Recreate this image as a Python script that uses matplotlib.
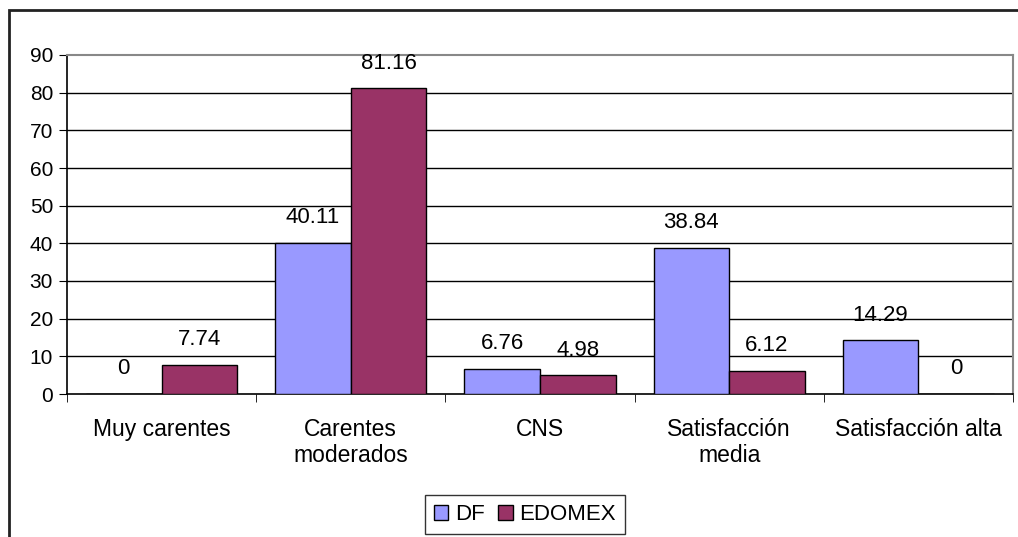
import matplotlib
matplotlib.use("Agg")
import matplotlib.pyplot as plt
import numpy as np
from matplotlib.patches import Rectangle

categories = ["Muy carentes", "Carentes\nmoderados", "CNS", "Satisfacción\nmedia", "Satisfacción alta"]
df_vals = [0, 40.11, 6.76, 38.84, 14.29]
edomex_vals = [7.74, 81.16, 4.98, 6.12, 0]
df_labels = ["0", "40.11", "6.76", "38.84", "14.29"]
edomex_labels = ["7.74", "81.16", "4.98", "6.12", "0"]
yticks = list(range(0, 100, 10))

plt.rcParams['font.family'] = ['Liberation Sans', 'DejaVu Sans']

W, H = 1018, 537
fig = plt.figure(figsize=(W / 100, H / 100), dpi=100)

def fx(px):
    return px / W

def fy(py):
    return 1 - py / H

# outer chart frame
fig.patches.append(Rectangle((fx(9), fy(600)), fx(1100) - fx(9), fy(10) - fy(600),
                             transform=fig.transFigure, fill=False, edgecolor='#222222',
                             linewidth=2, zorder=0))

ax = fig.add_axes([fx(67), fy(394), fx(1013) - fx(67), fy(55) - fy(394)])

x = np.arange(len(categories))
w = 0.4
c_df = '#9999FF'
c_ed = '#993366'
ax.bar(x - w / 2, df_vals, w, color=c_df, edgecolor='black', linewidth=1, zorder=3, label='DF')
ax.bar(x + w / 2, edomex_vals, w, color=c_ed, edgecolor='black', linewidth=1, zorder=3, label='EDOMEX')

fs_lab = 16
fs_tick = 15
fs_cat = 16.5
for i in range(len(categories)):
    ax.annotate(df_labels[i], (x[i] - w / 2, df_vals[i]), xytext=(0, 10.5), textcoords='offset points',
                ha='center', va='bottom', fontsize=fs_lab)
    ax.annotate(edomex_labels[i], (x[i] + w / 2, edomex_vals[i]), xytext=(0, 10.5), textcoords='offset points',
                ha='center', va='bottom', fontsize=fs_lab)

ax.set_xlim(-0.5, len(categories) - 0.5)
ax.set_ylim(0, 90)
ax.set_yticks(yticks)
ax.set_yticklabels([str(v) for v in yticks], fontsize=fs_tick)
for v in yticks[1:-1]:
    ax.axhline(v, color='black', linewidth=1, zorder=1)

ax.set_xticks(x)
ax.set_xticklabels(categories, fontsize=fs_cat, linespacing=1.2)
ax.tick_params(axis='x', length=0, pad=17)
ax.set_xticks(np.arange(-0.5, len(categories)), minor=True)
ax.tick_params(axis='x', which='minor', length=6, direction='out', color='black')
ax.tick_params(axis='y', length=6, direction='out', color='black', pad=4)

for s in ['top', 'right']:
    ax.spines[s].set_color('#888888')
    ax.spines[s].set_linewidth(1.5)
for s in ['left', 'bottom']:
    ax.spines[s].set_color('black')
    ax.spines[s].set_linewidth(1.2)

leg = fig.legend(loc='upper left', bbox_to_anchor=(fx(425), fy(495)), ncol=2, fontsize=16,
                 frameon=True, fancybox=False, edgecolor='black', handlelength=0.65, handleheight=0.65,
                 handletextpad=0.3, columnspacing=0.6, borderpad=0.4, borderaxespad=0)
leg.get_frame().set_linewidth(1)

fig.savefig('out.png', dpi=100)
